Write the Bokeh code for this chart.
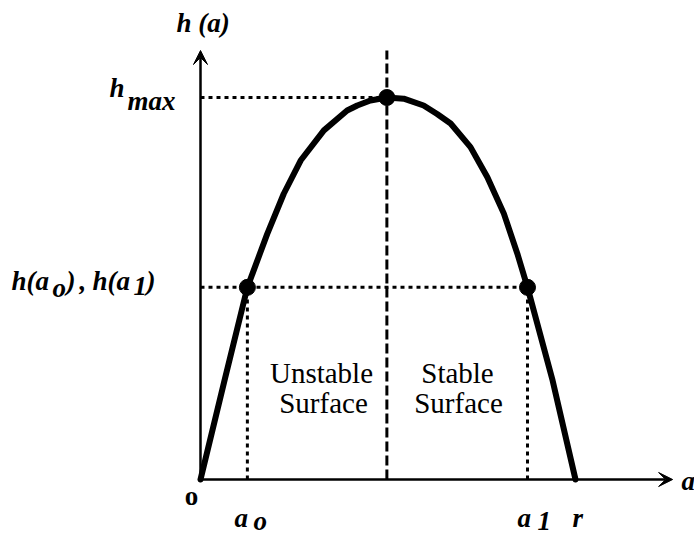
from bokeh.plotting import figure
from bokeh.models import Range1d, Arrow, VeeHead, Label
from bokeh.embed import file_html
from bokeh.resources import INLINE

# ---- data (a in units of r, h in units of h_max) ----
a_curve = [0.0, 0.064, 0.125, 0.178, 0.222, 0.267, 0.329, 0.391, 0.418, 0.453, 0.497,
           0.542, 0.595, 0.631, 0.667, 0.720, 0.765, 0.809, 0.845, 0.872, 0.939, 1.0]
h_curve = [0.0, 0.259, 0.503, 0.643, 0.748, 0.835, 0.914, 0.966, 0.979, 0.992, 1.0,
           0.997, 0.979, 0.957, 0.932, 0.870, 0.791, 0.696, 0.591, 0.503, 0.259, 0.0]
a_o, a_peak, a_1, r = 0.125, 0.497, 0.872, 1.0
h_ao, h_max = 0.503, 1.0
pts_a = [a_o, a_peak, a_1]
pts_h = [h_ao, h_max, h_ao]
x_axis_end, y_axis_end = 1.259, 1.123

W, H = 694, 537

# pixel helpers (for text placement only)
def X(px):
    return (px - 200) / 375.0

def Y(py):
    return (479 - py) / 382.0

p = figure(width=W, height=H, min_border=0, x_axis_type=None, y_axis_type=None,
           toolbar_location=None, output_backend="svg",
           x_range=Range1d(X(0), X(W)), y_range=Range1d(Y(H), Y(0)))
p.outline_line_color = None
p.background_fill_color = "white"
p.border_fill_color = "white"

K = "black"
# guide lines
p.line([0, a_peak], [h_max, h_max], line_color=K, line_width=3, line_dash="4 4")
p.line([0, a_1], [h_ao, h_ao], line_color=K, line_width=3, line_dash="4 4")
p.line([a_o, a_o], [0, h_ao], line_color=K, line_width=3, line_dash="4 4")
p.line([a_1, a_1], [0, h_ao], line_color=K, line_width=3, line_dash="4 4")
p.line([a_peak, a_peak], [0, y_axis_end], line_color=K, line_width=3, line_dash="10 4")

# axes with arrows
p.add_layout(Arrow(end=VeeHead(size=14, fill_color=K, line_color=K, line_width=1),
                   x_start=0, y_start=0, x_end=0, y_end=y_axis_end,
                   line_color=K, line_width=2.5))
p.add_layout(Arrow(end=VeeHead(size=14, fill_color=K, line_color=K, line_width=1),
                   x_start=0, y_start=0, x_end=x_axis_end, y_end=0,
                   line_color=K, line_width=2.5))

# curve
p.line(a_curve, h_curve, line_color=K, line_width=6, line_join="round", line_cap="round")
p.scatter(pts_a, pts_h, size=16, fill_color=K, line_color=K)

FONT = "Liberation Serif"
DY = -10  # compensate label baseline offset

def lab(txt, px, py, size=27, style="bold italic", align="left"):
    p.add_layout(Label(x=X(px), y=Y(py + DY), text=txt, text_font=FONT,
                       text_font_size=f"{size}px", text_font_style=style,
                       text_align=align, text_baseline="alphabetic", text_color=K))

# y-axis title
lab("h (a)", 176, 32)
# h_max
lab("h", 109, 97)
lab("max", 127, 110)
# h(a_o), h(a_1)
lab("h(a", 11, 290)
lab("o", 52, 297)
lab(")", 66, 290)
lab(",", 79, 290)
lab("h(a", 92, 290)
lab("1", 133, 295)
lab(")", 146, 290)
# x labels
lab("o", 191, 505, style="bold", align="center")
lab("a", 234, 527)
lab("o", 253, 530)
lab("a", 517, 527)
lab("1", 537, 530)
lab("r", 572, 527)
lab("a", 681, 490)
# region labels
lab("Unstable", 321, 382, size=29, style="normal", align="center")
lab("Surface", 323, 412, size=29, style="normal", align="center")
lab("Stable", 457, 382, size=29, style="normal", align="center")
lab("Surface", 458, 412, size=29, style="normal", align="center")

open("out.html", "w").write(file_html(p, INLINE))
